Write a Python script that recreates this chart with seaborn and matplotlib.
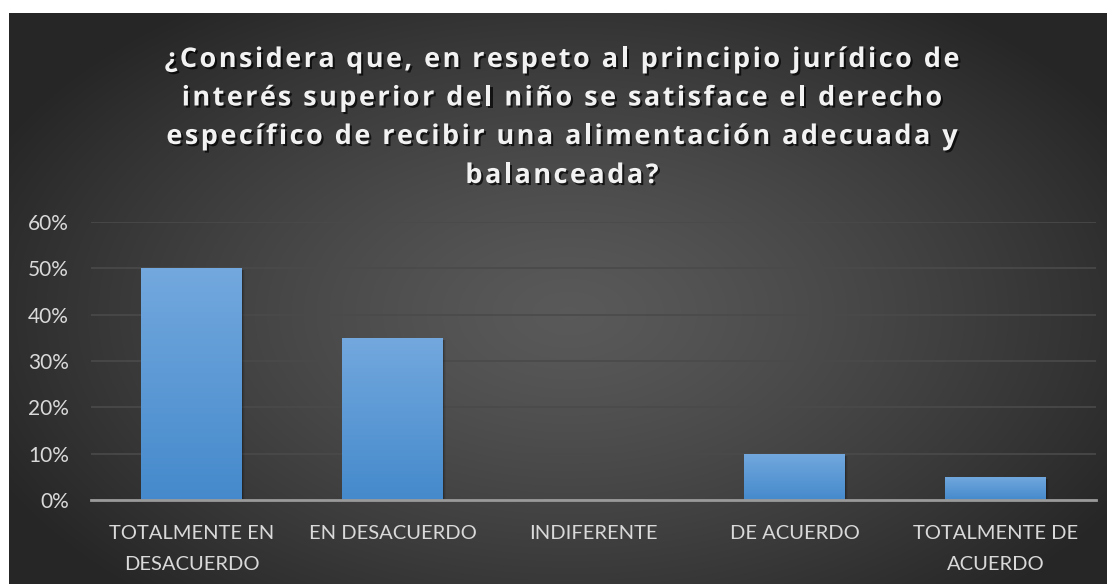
import numpy as np
import pandas as pd
import matplotlib
matplotlib.use('Agg')
import matplotlib.pyplot as plt
import matplotlib.patheffects as pe
from matplotlib.font_manager import FontProperties
from matplotlib.ticker import PercentFormatter
import seaborn as sns

categories = ['TOTALMENTE EN\nDESACUERDO', 'EN DESACUERDO', 'INDIFERENTE',
              'DE ACUERDO', 'TOTALMENTE DE\nACUERDO']
values = [0.50, 0.35, 0.0, 0.10, 0.05]
y_ticks = [0.0, 0.1, 0.2, 0.3, 0.4, 0.5, 0.6]
title_lines = [
    '¿Considera que, en respeto al principio jurídico de',
    'interés superior del niño se satisface el derecho',
    'específico de recibir una alimentación adecuada y',
    'balanceada?',
]

df = pd.DataFrame({'categoria': categories, 'valor': values})

sns.set_style('dark')
plt.rcParams['font.family'] = ['Lato', 'DejaVu Sans']

W, H = 1107, 584
fig = plt.figure(figsize=(W / 100, H / 100), dpi=100)
fig.patch.set_facecolor('white')

# ---- dark radial background panel ----
bg = fig.add_axes([9 / W, 0, 1 - 9 / W, (H - 13) / H], zorder=0)
yy, xx = np.mgrid[0:571, 0:1098]
r = np.sqrt(((xx - 560) / 640.0) ** 2 + ((yy - 300) / 380.0) ** 2)
g = 0.35 - 0.20 * np.clip(r, 0, 1) ** 1.3
bg.imshow(np.dstack([g, g, g]), aspect='auto', extent=[0, 1, 0, 1], interpolation='bilinear')
bg.set_axis_off()

# ---- bar axes ----
ax = fig.add_axes([91 / W, (H - 500) / H, (1096 - 91) / W, (500 - 222) / H], zorder=1)
ax.patch.set_alpha(0)
sns.barplot(data=df, x='categoria', y='valor', ax=ax, width=0.5, color='#5b9bd5')

# gradient fill inside each bar
grad = np.linspace(0, 1, 256)[:, None]
top = np.array([0.45, 0.66, 0.87])
bot = np.array([0.27, 0.54, 0.80])
img = top[None, None, :] * (1 - grad[..., None]) + bot[None, None, :] * grad[..., None]
for p in list(ax.patches):
    h = p.get_height()
    if h <= 0:
        continue
    x0 = p.get_x()
    w = p.get_width()
    for k, a in [(0.006, 0.18), (0.012, 0.10), (0.018, 0.05)]:
        ax.bar(x0 + w / 2 + k, h, width=w, bottom=-0.004, color='black', alpha=a,
               linewidth=0, zorder=1.5)
    im = ax.imshow(img, extent=[x0, x0 + w, 0, h], aspect='auto', zorder=2)
    im.set_clip_path(p)
    p.set_facecolor('none')
    p.set_edgecolor('none')
ax.set_xlim(-0.5, len(categories) - 0.5)
ax.set_ylim(0, 0.6)
ax.set_yticks(y_ticks)
ax.yaxis.set_major_formatter(PercentFormatter(1.0, decimals=0))

ax.grid(axis='y', color='#4a4a4a', linewidth=1.2)
ax.set_axisbelow(True)
for s in ['top', 'right', 'left']:
    ax.spines[s].set_visible(False)
ax.spines['bottom'].set_color('#9a9a9a')
ax.spines['bottom'].set_linewidth(2)
ax.spines['bottom'].set_zorder(3)
ax.set_xlabel('')
ax.set_ylabel('')
ax.tick_params(axis='y', length=0, pad=16, labelsize=15, labelcolor='#d9d9d9')
ax.tick_params(axis='x', length=0, pad=18, labelsize=14.5, labelcolor='#d9d9d9')
for t in ax.get_xticklabels():
    t.set_linespacing(1.97)

# ---- title: letter-spaced, drawn char by char ----
prop = FontProperties(family=['Open Sans', 'DejaVu Sans'], weight='bold', size=19.5)
renderer = fig.canvas.get_renderer()
bar_w = renderer.get_text_width_height_descent('|', prop, ismath=False)[0]


def text_w(s):
    return renderer.get_text_width_height_descent(s + '|', prop, ismath=False)[0] - bar_w


extra = (795 - text_w(title_lines[0])) / (len(title_lines[0]) - 1)
shadow = [pe.withSimplePatchShadow(offset=(1.5, -1.5), shadow_rgbFace='black', alpha=0.7)]
baselines = [67, 105.5, 144, 183]
for line, yb in zip(title_lines, baselines):
    total = text_w(line) + extra * (len(line) - 1)
    x_start = 562 - total / 2
    for i, ch in enumerate(line):
        if ch == ' ':
            continue
        xp = x_start + text_w(line[:i]) + extra * i
        fig.text(xp / W, (H - yb) / H, ch, fontproperties=prop, ha='left', va='baseline',
                 color='#f2f2f2', path_effects=shadow)

plt.savefig('out.png', dpi=100)
